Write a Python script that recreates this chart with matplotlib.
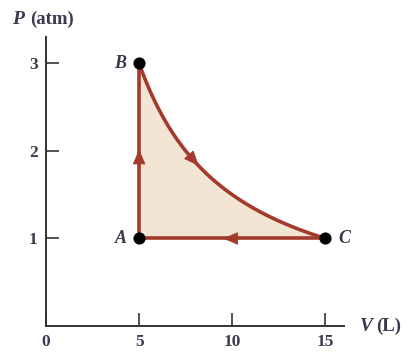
import numpy as np
import matplotlib
matplotlib.use("Agg")
import matplotlib.pyplot as plt

# state points of the cycle
point_names = ["A", "B", "C"]
volumes = [5, 5, 15]       # L
pressures = [1, 3, 1]      # atm
x_ticks = [0, 5, 10, 15]
y_ticks = [1, 2, 3]

LINE = "#a33a2b"
FILL = "#f3e5d3"
INK = "#3a3a4c"

plt.rcParams["font.family"] = ["Liberation Serif", "DejaVu Serif"]

fig = plt.figure(figsize=(4.18, 3.54), dpi=100)
ax = fig.add_axes([0.110, 0.079, 0.713, 0.816])
ax.set_xlim(0, 16)
ax.set_ylim(0, 3.3)

# isotherm B -> C  (PV = const)
vA, vB, vC = volumes
pA, pB, pC = pressures
k = vB * pB
v_curve = np.linspace(vB, vC, 200)
p_curve = k / v_curve

# shaded area
ax.fill_between(v_curve, p_curve, pA, color=FILL, zorder=1, lw=0)

ax.plot([vA, vB], [pA, pB], color=LINE, lw=2.6, zorder=2)
ax.plot(v_curve, p_curve, color=LINE, lw=2.6, zorder=2)
ax.plot([vC, vA], [pC, pA], color=LINE, lw=2.6, zorder=2)

# direction arrows
def arrow(x0, y0, x1, y1):
    ax.annotate("", xy=(x1, y1), xytext=(x0, y0),
                arrowprops=dict(arrowstyle="-|>,head_length=1.0,head_width=0.42",
                                color=LINE, lw=0.5, shrinkA=0, shrinkB=0),
                zorder=3)

arrow(vA, 1.6, vA, 2.02)
vm = 8.2
arrow(vm - 0.6, k / (vm - 0.6), vm, k / vm)
arrow(10.5, pA, 9.5, pA)

ax.scatter(volumes, pressures, s=60, color="black", zorder=4)

offsets = {"A": (-1.0, 0), "B": (-1.0, 0), "C": (1.0, 0)}
for name, v, p in zip(point_names, volumes, pressures):
    dx, dy = offsets[name]
    ax.text(v + dx, p + dy, name, ha="center", va="center", fontsize=13,
            style="italic", fontweight="bold", color=INK)

# axes styling
for side in ["top", "right"]:
    ax.spines[side].set_visible(False)
for side in ["left", "bottom"]:
    ax.spines[side].set_color("#333333")
    ax.spines[side].set_linewidth(1.4)

ax.set_xticks(x_ticks)
ax.set_yticks(y_ticks)
ax.tick_params(direction="in", length=9.5, width=1.2, color="#333333",
               labelsize=12.5, labelcolor=INK)
ax.tick_params(axis="x", pad=6)
ax.tick_params(axis="y", pad=6)
for lbl in ax.get_xticklabels() + ax.get_yticklabels():
    lbl.set_fontweight("bold")

# axis titles
fig.text(0.862, 0.079, "V", fontsize=14, va="center", ha="left", color=INK,
         fontstyle="italic", fontweight="bold")
fig.text(0.900, 0.079, "(L)", fontsize=13.5, va="center", ha="left", color=INK,
         fontweight="bold")
fig.text(0.028, 0.945, "P", fontsize=14, va="center", ha="left", color=INK,
         fontstyle="italic", fontweight="bold")
fig.text(0.072, 0.945, "(atm)", fontsize=13.5, va="center", ha="left", color=INK,
         fontweight="bold")

fig.savefig("out.png", dpi=100)
